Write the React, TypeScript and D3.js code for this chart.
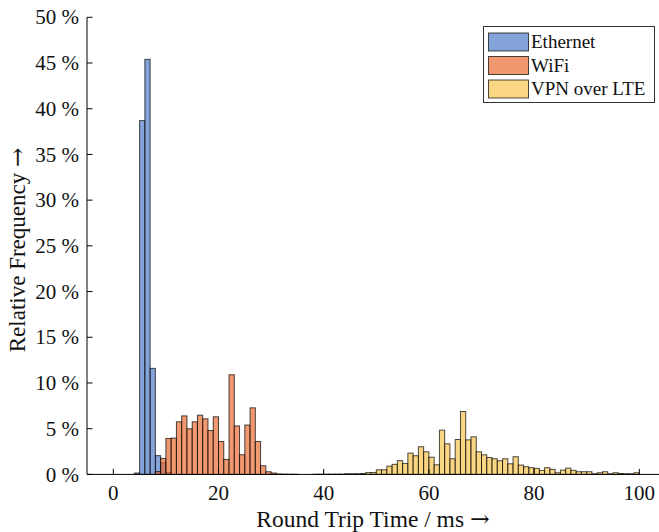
import React from "react";
import * as d3 from "d3";

// ---- Data (bin start in ms, bin width 1 ms; relative frequency in %) ----
const ethernetBins = [4, 5, 6, 7, 8, 9, 10];
const ethernetPct = [0.15, 38.7, 45.4, 11.6, 2.05, 1.27, 0.2];

const wifiBins = [8, 9, 10, 11, 12, 13, 14, 15, 16, 17, 18, 19, 20, 21, 22, 23, 24, 25, 26, 27, 28, 29, 30, 31, 32, 33, 34];
const wifiPct = [0.3, 1.75, 3.93, 3.97, 5.75, 6.4, 4.99, 5.75, 6.48, 6.08, 4.8, 6.3, 3.6, 1.64, 10.9, 5.3, 2.15, 5.4, 7.28, 3.6, 0.95, 0.29, 0.15, 0.05, 0.03, 0.02, 0.02];

const vpnBins = [38, 39, 40, 41, 42, 43, 44, 45, 46, 47, 48, 49, 50, 51, 52, 53, 54, 55, 56, 57, 58, 59, 60, 61, 62, 63, 64, 65, 66, 67, 68, 69, 70, 71, 72, 73, 74, 75, 76, 77, 78, 79, 80, 81, 82, 83, 84, 85, 86, 87, 88, 89, 90, 91, 92, 93, 94, 95, 96, 97, 98, 99];
const vpnPct = [0.02, 0.02, 0.02, 0.02, 0.03, 0.03, 0.07, 0.07, 0.07, 0.1, 0.2, 0.2, 0.5, 0.5, 0.9, 1.1, 1.5, 1.2, 2.33, 2.04, 3.02, 2.47, 1.88, 1.05, 4.84, 3.35, 1.71, 3.82, 6.88, 3.78, 4.11, 2.47, 2.14, 1.85, 1.71, 1.49, 1.71, 1.16, 1.93, 1.02, 0.84, 0.73, 0.66, 0.44, 0.73, 0.55, 0.18, 0.47, 0.69, 0.44, 0.29, 0.29, 0.29, 0.07, 0.18, 0.29, 0.07, 0.18, 0.1, 0.07, 0.07, 0.18];

const xTicks = [0, 20, 40, 60, 80, 100];
const yTicks = [0, 5, 10, 15, 20, 25, 30, 35, 40, 45, 50];

const seriesNames = ["Ethernet", "WiFi", "VPN over LTE"];
const seriesColors = ["#4f7cc9", "#e96c32", "#f8c550"];

const BIN_WIDTH = 1;

export default function App() {
  const W = 659;
  const H = 532;
  const font = "'Liberation Serif', 'Times New Roman', serif";
  const arrowFont = "'DejaVu Serif', serif";

  const x = d3.scaleLinear().domain([-5, 105]).range([87, 665.6]);
  const y = d3.scaleLinear().domain([0, 50]).range([474.4, 17.3]);

  const series = [
    { bins: ethernetBins, pct: ethernetPct },
    { bins: wifiBins, pct: wifiPct },
    { bins: vpnBins, pct: vpnPct },
  ];

  const y0 = y(0);
  const xLeft = x(-5);

  return (
    <svg
      width={W}
      height={H}
      style={{ position: "absolute", left: 0, top: 0, background: "#fff" }}
      fontFamily={font}
    >
      <rect x={0} y={0} width={W} height={H} fill="#fff" />
      {series.map((s, si) => (
        <g key={si}>
          {s.bins.map((b, i) => {
            const x1 = x(b);
            const x2 = x(b + BIN_WIDTH);
            const yt = y(s.pct[i]);
            return (
              <rect
                key={i}
                x={x1}
                y={yt}
                width={x2 - x1}
                height={y0 - yt}
                fill={seriesColors[si]}
                fillOpacity={0.7}
                stroke="#000"
                strokeOpacity={0.7}
                strokeWidth={1}
              />
            );
          })}
        </g>
      ))}

      {/* axes */}
      <line x1={xLeft} x2={W} y1={y0} y2={y0} stroke="#000" strokeWidth={1} />
      <line x1={xLeft} x2={xLeft} y1={y(50)} y2={y0} stroke="#000" strokeWidth={1} />
      {xTicks.map((t) => (
        <g key={t}>
          <line x1={x(t)} x2={x(t)} y1={y0} y2={y0 - 5.5} stroke="#000" strokeWidth={1} />
          <text x={x(t)} y={500} textAnchor="middle" fontSize={21} fill="#111">
            {t}
          </text>
        </g>
      ))}
      {yTicks.map((t) => (
        <g key={t}>
          <line x1={xLeft} x2={xLeft + 5.5} y1={y(t)} y2={y(t)} stroke="#000" strokeWidth={1} />
          <text x={79} y={y(t)} dy="0.34em" textAnchor="end" fontSize={21} fill="#111">
            {`${t} %`}
          </text>
        </g>
      ))}

      {/* axis titles */}
      <text x={373} y={526.5} textAnchor="middle" fontSize={23.5} fill="#111">
        Round Trip Time / ms{" "}
        <tspan fontFamily={arrowFont} fontWeight={300}>→</tspan>
      </text>
      <text
        transform={`translate(25, 250) rotate(-90)`}
        textAnchor="middle"
        fontSize={23}
        fill="#111"
      >
        Relative Frequency{" "}
        <tspan fontFamily={arrowFont} fontWeight={300}>→</tspan>
      </text>

      {/* legend */}
      <rect x={483.5} y={26.5} width={171} height={76} fill="#fff" stroke="#333" strokeWidth={1} />
      {seriesNames.map((n, i) => {
        const top = 33 + i * 23.5;
        return (
          <g key={n}>
            <rect
              x={488.5}
              y={top}
              width={40}
              height={18}
              fill={seriesColors[i]}
              fillOpacity={0.7}
              stroke="#000"
              strokeOpacity={0.7}
              strokeWidth={1}
            />
            <text x={531} y={top + 15} fontSize={19} fill="#111">
              {n}
            </text>
          </g>
        );
      })}
    </svg>
  );
}
